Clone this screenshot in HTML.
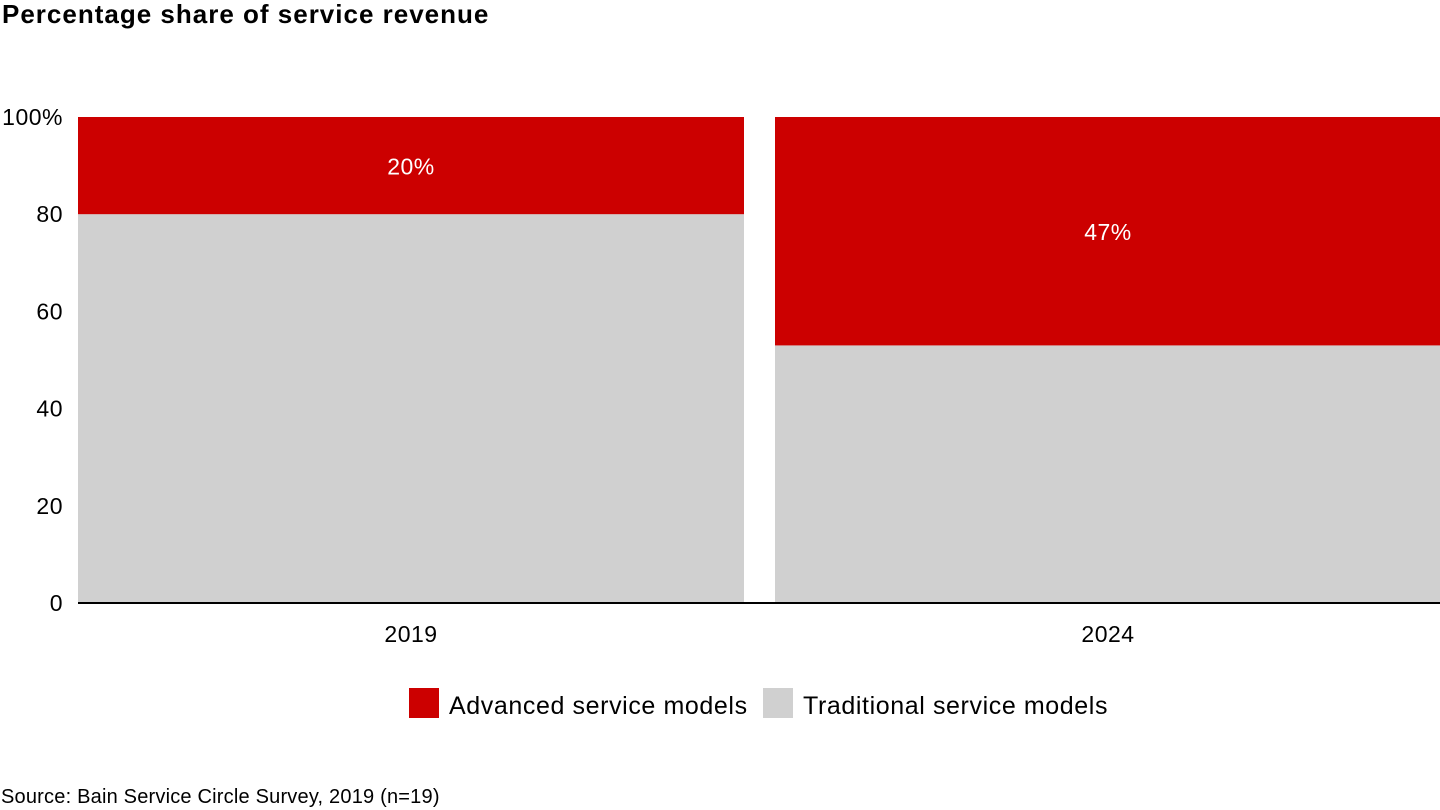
<!DOCTYPE html>
<html><head><meta charset="utf-8"><style>
body{margin:0;width:1440px;height:810px;background:#fff;font-family:"Liberation Sans",sans-serif;overflow:hidden;position:relative}
</style></head><body>
<div style="position:absolute;left:2px;top:-1px;font-size:26px;letter-spacing:1px;font-weight:bold;color:#000">Percentage share of service revenue</div>
<svg id="chart" width="1440" height="810" style="position:absolute;left:0;top:0"></svg>
<div style="position:absolute;left:1px;top:786px;font-size:20px;letter-spacing:0.2px;color:#000">Source: Bain Service Circle Survey, 2019 (n=19)</div>
<script>
const categories=["2019","2024"];
const advanced=[20,47];
const traditional=[80,53];
const yTicks=[0,20,40,60,80,100];
const ns="http://www.w3.org/2000/svg";
const svg=document.getElementById('chart');
const y0=603,y100=117;
function y(v){return y0-(y0-y100)*v/100;}
const barX=[78,775],barW=666;
function el(t,a){const e=document.createElementNS(ns,t);for(const k in a)e.setAttribute(k,a[k]);svg.appendChild(e);return e;}
yTicks.forEach(t=>{
  const tx=el('text',{x:63,y:y(t)+8,'text-anchor':'end','font-size':23,'letter-spacing':0.5,fill:'#000'});
  tx.textContent=t===100?'100%':t;
  
  
});
categories.forEach((c,i)=>{
  const x=barX[i];
  const tr=el('rect',{x:x,y:y(traditional[i]),width:barW,height:y(0)-y(traditional[i]),fill:'#d0d0d0'});
  
  
  const ad=el('rect',{x:x,y:y(traditional[i]+advanced[i]),width:barW,height:y(traditional[i])-y(traditional[i]+advanced[i]),fill:'#cc0000'});
  
  
  const lb=el('text',{x:x+barW/2,y:(y(traditional[i])+y(traditional[i]+advanced[i]))/2+9,'text-anchor':'middle','font-size':23,'letter-spacing':0.5,fill:'#fff'});
  lb.textContent=advanced[i]+'%';
  
  
  const cl=el('text',{x:x+barW/2,y:642,'text-anchor':'middle','font-size':23,'letter-spacing':0.5,fill:'#000'});
  cl.textContent=c;
  
  
});
const ax=el('line',{x1:78,x2:1440,y1:y0,y2:y0,stroke:'#000','stroke-width':2});


const legend=[["Advanced service models","#cc0000",409],["Traditional service models","#d0d0d0",763]];
legend.forEach(l=>{
  const r=el('rect',{x:l[2],y:688,width:30,height:30,fill:l[1]});
  
  
  const t=el('text',{x:l[2]+40,y:714,'font-size':25,'letter-spacing':0.6,fill:'#000'});
  t.textContent=l[0];
  
  
});
</script>
</body></html>
